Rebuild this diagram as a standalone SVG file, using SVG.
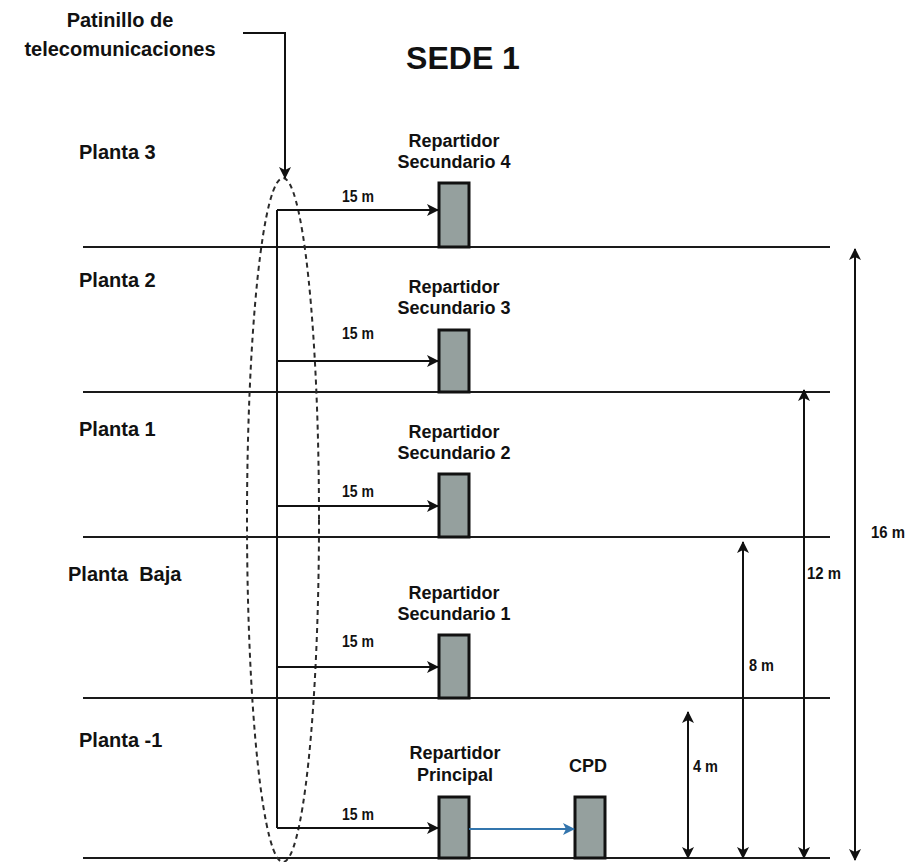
<svg xmlns="http://www.w3.org/2000/svg" width="907" height="862" viewBox="0 0 907 862">
  <style>
    text { font-family: "Liberation Sans", Arial, sans-serif; font-weight: bold; fill: #111; }
    .floor { font-size: 20px; }
    .title { font-size: 32px; }
    .lbl { font-size: 18px; text-anchor: middle; }
    .dim { font-size: 16px; }
    .floorline { stroke: #1a1a1a; stroke-width: 2; fill: none; }
    .line { stroke: #111; stroke-width: 2; fill: none; }
    .rack { fill: #95a09e; stroke: #111; stroke-width: 3; }
    .duct { fill: none; stroke: #2a2a2a; stroke-width: 2; stroke-dasharray: 5 4; }
    .blue { stroke: #3375ad; stroke-width: 2; fill: none; }
  </style>
  <defs>
    <marker id="ah" viewBox="0 0 12 12" markerWidth="12" markerHeight="12" refX="11" refY="6" orient="auto-start-reverse" markerUnits="userSpaceOnUse">
      <path d="M0,0 L12,6 L0,12 L3,6 z" fill="#111"/>
    </marker>
    <marker id="ahb" viewBox="0 0 12 12" markerWidth="12" markerHeight="12" refX="11" refY="6" orient="auto" markerUnits="userSpaceOnUse">
      <path d="M0,0 L12,6 L0,12 L3,6 z" fill="#3375ad"/>
    </marker>
  </defs>

  <!-- title and riser caption -->
  <text class="title" x="463" y="69" text-anchor="middle">SEDE 1</text>
  <g id="patinillo-label">
    <text class="floor" x="120" y="27" text-anchor="middle">Patinillo de</text>
    <text class="floor" x="120" y="56" text-anchor="middle">telecomunicaciones</text>
  </g>

  <!-- floor slabs -->
  <g id="floors">
    <line class="floorline" x1="83" y1="247" x2="830" y2="247"/>
    <line class="floorline" x1="83" y1="392" x2="830" y2="392"/>
    <line class="floorline" x1="83" y1="537" x2="830" y2="537"/>
    <line class="floorline" x1="83" y1="698" x2="830" y2="698"/>
    <line class="floorline" x1="83" y1="858" x2="830" y2="858"/>
    <text class="floor" x="79" y="159">Planta 3</text>
    <text class="floor" x="79" y="287">Planta 2</text>
    <text class="floor" x="79" y="436">Planta 1</text>
    <text class="floor" x="68" y="581" xml:space="preserve">Planta  Baja</text>
    <text class="floor" x="79" y="747">Planta -1</text>
  </g>

  <!-- vertical telecom shaft -->
  <g id="shaft">
    <ellipse class="duct" cx="283" cy="520" rx="36" ry="342"/>
  </g>

  <!-- distribution frames -->
  <g id="rs4">
    <rect class="rack" x="439" y="183" width="30" height="64"/>
    <text class="lbl" x="454" y="147">Repartidor</text>
    <text class="lbl" x="454" y="168">Secundario 4</text>
  </g>
  <g id="rs3">
    <rect class="rack" x="439" y="330" width="30" height="62"/>
    <text class="lbl" x="454" y="293">Repartidor</text>
    <text class="lbl" x="454" y="314">Secundario 3</text>
  </g>
  <g id="rs2">
    <rect class="rack" x="439" y="474" width="30" height="63"/>
    <text class="lbl" x="454" y="438">Repartidor</text>
    <text class="lbl" x="454" y="459">Secundario 2</text>
  </g>
  <g id="rs1">
    <rect class="rack" x="439" y="635" width="30" height="63"/>
    <text class="lbl" x="454" y="599">Repartidor</text>
    <text class="lbl" x="454" y="620">Secundario 1</text>
  </g>
  <g id="rp">
    <rect class="rack" x="439" y="797" width="30" height="61"/>
    <text class="lbl" x="455" y="759">Repartidor</text>
    <text class="lbl" x="455" y="781">Principal</text>
  </g>
  <g id="cpd">
    <rect class="rack" x="575" y="797" width="30" height="61"/>
    <text class="lbl" x="588" y="772">CPD</text>
  </g>

  <!-- cabling and dimensions -->
  <g id="connectors">
    <polyline class="line" points="243,33 285,33 285,178" marker-end="url(#ah)"/>
    <line class="line" x1="277" y1="210" x2="277" y2="828"/>
    <line class="line" x1="277" y1="210" x2="438" y2="210" marker-end="url(#ah)"/>
    <line class="line" x1="277" y1="361" x2="438" y2="361" marker-end="url(#ah)"/>
    <line class="line" x1="277" y1="506" x2="438" y2="506" marker-end="url(#ah)"/>
    <line class="line" x1="277" y1="667" x2="438" y2="667" marker-end="url(#ah)"/>
    <line class="line" x1="277" y1="828" x2="438" y2="828" marker-end="url(#ah)"/>
    <line class="blue" x1="469" y1="829" x2="574" y2="829" marker-end="url(#ahb)"/>
    <text class="dim" x="342" y="202" textLength="32" lengthAdjust="spacingAndGlyphs">15 m</text>
    <text class="dim" x="342" y="339" textLength="32" lengthAdjust="spacingAndGlyphs">15 m</text>
    <text class="dim" x="342" y="497" textLength="32" lengthAdjust="spacingAndGlyphs">15 m</text>
    <text class="dim" x="342" y="647" textLength="32" lengthAdjust="spacingAndGlyphs">15 m</text>
    <text class="dim" x="342" y="820" textLength="32" lengthAdjust="spacingAndGlyphs">15 m</text>

    <line class="line" x1="688" y1="712" x2="688" y2="858" marker-start="url(#ah)" marker-end="url(#ah)"/>
    <line class="line" x1="743" y1="542" x2="743" y2="858" marker-start="url(#ah)" marker-end="url(#ah)"/>
    <line class="line" x1="804" y1="390" x2="804" y2="858" marker-start="url(#ah)" marker-end="url(#ah)"/>
    <line class="line" x1="855" y1="249" x2="855" y2="860" marker-start="url(#ah)" marker-end="url(#ah)"/>
    <text class="dim" x="693" y="772" textLength="25" lengthAdjust="spacingAndGlyphs">4 m</text>
    <text class="dim" x="749" y="671" textLength="25" lengthAdjust="spacingAndGlyphs">8 m</text>
    <text class="dim" x="807" y="579" textLength="34" lengthAdjust="spacingAndGlyphs">12 m</text>
    <text class="dim" x="871" y="538" textLength="34" lengthAdjust="spacingAndGlyphs">16 m</text>
  </g>
</svg>
